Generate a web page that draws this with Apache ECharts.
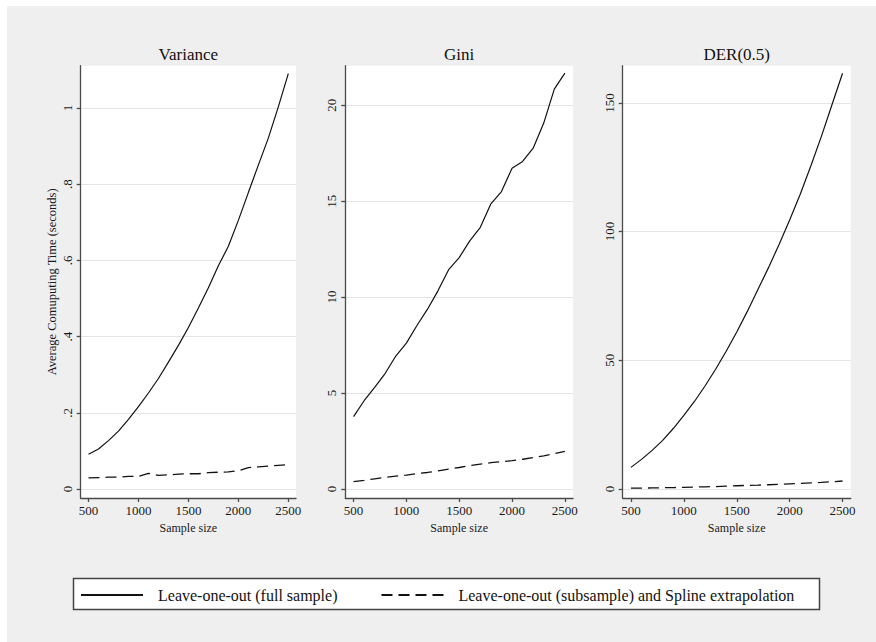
<!DOCTYPE html>
<html>
<head>
<meta charset="utf-8">
<script src="https://cdn.jsdelivr.net/npm/echarts@6/dist/echarts.min.js"></script>
<style>
html,body{margin:0;padding:0;background:#fff;}
#chart{width:876px;height:642px;}
</style>
</head>
<body>
<div id="chart"></div>
<script>
// ---- data ----
var sampleSizes = [500,600,700,800,900,1000,1100,1200,1300,1400,1500,1600,1700,1800,1900,2000,2100,2200,2300,2400,2500];
var varianceFull = [0.091,0.105,0.127,0.152,0.183,0.216,0.252,0.290,0.333,0.377,0.424,0.475,0.528,0.586,0.637,0.705,0.778,0.850,0.921,1.003,1.090];
var varianceSub  = [0.029,0.030,0.031,0.031,0.033,0.033,0.041,0.036,0.037,0.039,0.040,0.040,0.043,0.044,0.045,0.048,0.056,0.058,0.060,0.062,0.064];
var giniFull = [3.77,4.60,5.30,6.03,6.93,7.60,8.52,9.37,10.34,11.43,12.06,12.93,13.64,14.86,15.50,16.72,17.07,17.76,19.07,20.84,21.67];
var giniSub  = [0.38,0.45,0.53,0.60,0.67,0.72,0.80,0.86,0.94,1.04,1.12,1.22,1.30,1.37,1.42,1.48,1.55,1.64,1.73,1.84,1.96];
var derFull = [8.4,11.5,15.0,18.9,23.5,28.6,34.0,40.0,46.5,53.5,61.0,69.0,77.5,86.0,95.0,104.5,114.5,125.5,137.0,149.3,161.5];
var derSub  = [0.3,0.35,0.4,0.5,0.55,0.65,0.75,0.85,0.95,1.1,1.25,1.4,1.5,1.65,1.8,2.0,2.15,2.35,2.55,2.8,3.1];

var panelTitles = ['Variance','Gini','DER(0.5)'];
var xTicks = [500,1000,1500,2000,2500];
var xLabels = ['500','1000','1500','2000','2500'];
var yTicks1 = [0,0.2,0.4,0.6,0.8,1];
var yLabels1 = ['0','.2','.4','.6','.8','1'];
var yTicks2 = [0,5,10,15,20];
var yLabels2 = ['0','5','10','15','20'];
var yTicks3 = [0,50,100,150];
var yLabels3 = ['0','50','100','150'];
var seriesNames = ['Leave-one-out (full sample)','Leave-one-out (subsample) and Spline extrapolation'];
var xTitle = 'Sample size';
var yTitle = 'Average Comuputing Time (seconds)';

// ---- layout ----
var FONT = 'Liberation Serif';
var grids = [
  {left:80.7, top:65.7, width:215.3, height:432.3},
  {left:345.3, top:65.7, width:227.7, height:432.3},
  {left:622.7, top:65.7, width:228, height:432.3}
];
var yRanges = [[-0.0236,1.111],[-0.47,22.06],[-3.5,164.45]];
var yTickSets = [yTicks1,yTicks2,yTicks3];
var yLabelSets = [yLabels1,yLabels2,yLabels3];

function pairs(ys){ return sampleSizes.map(function(x,i){ return [x, ys[i]]; }); }
function lookup(ticks, labels){
  return function(v){ for (var k=0;k<ticks.length;k++){ if (Math.abs(ticks[k]-v)<1e-9) return labels[k]; } return ''; };
}

var axisLineStyle = {color:'#4a4a4a', width:1.3};

var xAxes = grids.map(function(g,i){
  return {
    type:'value', gridIndex:i, min:422, max:2577,
    axisLine:{show:true, onZero:false, lineStyle:axisLineStyle},
    axisTick:{show:true, length:4, lineStyle:axisLineStyle, customValues:xTicks},
    axisLabel:{show:true, customValues:xTicks, margin:6, fontFamily:FONT, fontSize:13, color:'#1a1a1a',
      formatter:lookup(xTicks, xLabels)},
    splitLine:{show:false},
    name:xTitle, nameLocation:'middle', nameGap:19,
    nameTextStyle:{fontFamily:FONT, fontSize:12, color:'#1a1a1a'}
  };
});
var yAxes = grids.map(function(g,i){
  var ticks = yTickSets[i], labels = yLabelSets[i];
  var ax = {
    type:'value', gridIndex:i, min:yRanges[i][0], max:yRanges[i][1],
    axisLine:{show:true, onZero:false, lineStyle:axisLineStyle},
    axisTick:{show:true, length:4, lineStyle:axisLineStyle, customValues:ticks},
    axisLabel:{show:true, customValues:ticks, rotate:90, margin:7, fontFamily:FONT, fontSize:13, color:'#1a1a1a',
      formatter:lookup(ticks, labels)},
    splitLine:{show:true, lineStyle:{color:'#e4e4e4', width:1}}
  };
  if (i===0){
    ax.name = yTitle; ax.nameLocation='middle'; ax.nameGap=22;
    ax.nameTextStyle = {fontFamily:FONT, fontSize:12.5, color:'#1a1a1a'};
  }
  return ax;
});

var fullSets = [varianceFull, giniFull, derFull];
var subSets = [varianceSub, giniSub, derSub];
var series = [];
for (var i=0;i<3;i++){
  series.push({type:'line', name:seriesNames[0], xAxisIndex:i, yAxisIndex:i, data:pairs(fullSets[i]),
    symbol:'none', showSymbol:false, lineStyle:{color:'#111', width:1.2, type:'solid'}, itemStyle:{color:'#111'}, z:3});
  series.push({type:'line', name:seriesNames[1], xAxisIndex:i, yAxisIndex:i, data:pairs(subSets[i]),
    symbol:'none', showSymbol:false, lineStyle:{color:'#111', width:1.3, type:[11,6]}, itemStyle:{color:'#111'}, z:3});
}

var graphics = [
  {type:'rect', shape:{x:0,y:0,width:876,height:6}, style:{fill:'#fff'}, silent:true},
  {type:'rect', shape:{x:0,y:0,width:7,height:642}, style:{fill:'#fff'}, silent:true},
  {type:'rect', shape:{x:73.5,y:578.5,width:746,height:31}, style:{fill:'#fff', stroke:'#444', lineWidth:1.5}, silent:true}
];
grids.forEach(function(g,i){
  graphics.push({type:'text', x:g.left+g.width/2, y:54, silent:true,
    style:{text:panelTitles[i], fontFamily:FONT, fontSize:17, fill:'#111', align:'center', verticalAlign:'middle'}});
});

var option = {
  animation:false,
  backgroundColor:'#efefef',
  textStyle:{fontFamily:FONT},
  grid: grids.map(function(g){ return {left:g.left, top:g.top, width:g.width, height:g.height, show:true, backgroundColor:'#fff', borderWidth:0, containLabel:false}; }),
  xAxis:xAxes,
  yAxis:yAxes,
  legend:{
    data:seriesNames, left:80, top:587, orient:'horizontal', padding:0,
    itemWidth:62, itemHeight:14, itemGap:43, selectedMode:false,
    itemStyle:{opacity:0, borderWidth:0},
    textStyle:{fontFamily:FONT, fontSize:16, color:'#111', padding:[0,0,0,10]}
  },
  graphic:graphics,
  series:series
};

var chart = echarts.init(document.getElementById('chart'), null, {renderer:'svg'});
chart.setOption(option);
</script>
</body>
</html>
